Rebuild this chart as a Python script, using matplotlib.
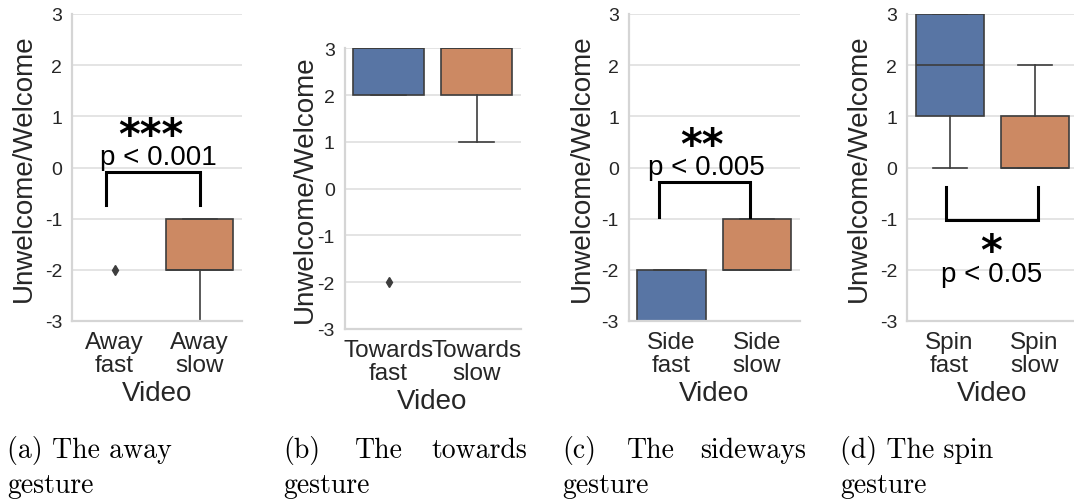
import matplotlib.pyplot as plt

plt.rcParams['font.family'] = ['Liberation Sans', 'DejaVu Sans']
plt.rcParams['axes.unicode_minus'] = False

# box statistics (one entry per video)
away_names = ["Away\nfast", "Away\nslow"]
away_q1 = [-3, -2]
away_med = [-3, -2]
away_q3 = [-3, -1]
away_lo = [-3, -3]
away_hi = [-3, -1]
away_fliers = [[-2], []]

towards_names = ["Towards\nfast", "Towards\nslow"]
towards_q1 = [2, 2]
towards_med = [3, 3]
towards_q3 = [3, 3]
towards_lo = [2, 1]
towards_hi = [3, 3]
towards_fliers = [[-2], []]

side_names = ["Side\nfast", "Side\nslow"]
side_q1 = [-3, -2]
side_med = [-3, -2]
side_q3 = [-2, -1]
side_lo = [-3, -2]
side_hi = [-2, -1]
side_fliers = [[], []]

spin_names = ["Spin\nfast", "Spin\nslow"]
spin_q1 = [1, 0]
spin_med = [2, 0]
spin_q3 = [3, 1]
spin_lo = [0, 0]
spin_hi = [3, 2]
spin_fliers = [[], []]

yticks = [-3, -2, -1, 0, 1, 2, 3]
captions = ["(a) The away", "(b) The towards", "(c) The sideways", "(d) The spin"]

box_colors = ["#5875a4", "#cc8963"]
edge = "#3d3d3d"
W, H = 1074, 502

fig = plt.figure(figsize=(W / 100, H / 100), dpi=100)


def panel(px, names, q1, med, q3, lo, hi, fliers, ylabelpad):
    left, top, width, bottom = px
    ax = fig.add_axes([left / W, 1 - bottom / H, width / W, (bottom - top) / H])
    stats = []
    for i in range(len(names)):
        stats.append(dict(q1=q1[i], med=med[i], q3=q3[i], whislo=lo[i],
                          whishi=hi[i], fliers=fliers[i]))
    bp = ax.bxp(stats, positions=range(len(names)), widths=0.8, patch_artist=True,
                boxprops=dict(edgecolor=edge, linewidth=1.2),
                medianprops=dict(color=edge, linewidth=1.2),
                whiskerprops=dict(color=edge, linewidth=1.2),
                capprops=dict(color=edge, linewidth=1.2),
                capwidths=0.4,
                flierprops=dict(marker='d', markerfacecolor=edge, markeredgecolor=edge,
                                markersize=5))
    for patch, c in zip(bp['boxes'], box_colors):
        patch.set_facecolor(c)
    ax.set_xlim(-0.5, len(names) - 0.5)
    ax.set_ylim(-3, 3)
    ax.set_yticks(yticks)
    ax.set_yticklabels([str(t) for t in yticks], fontsize=14, color='#262626')
    ax.set_xticks(range(len(names)))
    ax.set_xticklabels(names, fontsize=17.5, color='#262626', linespacing=1.05)
    ax.tick_params(length=0, pad=7)
    ax.yaxis.grid(True, color='#dddddd', linewidth=1.1)
    ax.set_axisbelow(True)
    for s in ['top', 'right']:
        ax.spines[s].set_visible(False)
    for s in ['left', 'bottom']:
        ax.spines[s].set_color('#d5d5d5')
        ax.spines[s].set_linewidth(1.6)
        ax.spines[s].set_zorder(3)
    ax.set_xlabel("Video", fontsize=20, color='#262626', labelpad=3)
    ax.set_ylabel("Unwelcome/Welcome", fontsize=20, color='#262626', labelpad=ylabelpad)
    return ax


def bracket(ax, x0, x1, y_bar, y_leg):
    ax.plot([x0, x0, x1, x1], [y_leg, y_bar, y_bar, y_leg], color='black', lw=2.2,
            solid_joinstyle='miter', clip_on=False)


def stars(ax, x, y, s):
    ax.text(x, y, s, ha='center', va='baseline', fontsize=30, fontweight='bold',
            family='DejaVu Sans', color='black')


def ptext(ax, x, y, s):
    ax.text(x, y, s, ha='center', va='baseline', fontsize=20, color='black')


ax_a = panel((72, 15, 170, 322), away_names, away_q1, away_med, away_q3, away_lo,
             away_hi, away_fliers, 6)
bracket(ax_a, -0.1, 1.0, -0.08, -0.74)
stars(ax_a, 0.43, 0.39, "***")
ptext(ax_a, 0.52, 0.07, "p < 0.001")

ax_b = panel((344.5, 49.3, 176, 330), towards_names, towards_q1, towards_med,
             towards_q3, towards_lo, towards_hi, towards_fliers, 0)

ax_c = panel((628.7, 15, 171, 322), side_names, side_q1, side_med, side_q3, side_lo,
             side_hi, side_fliers, 5)
bracket(ax_c, -0.145, 0.92, -0.28, -0.96)
stars(ax_c, 0.36, 0.19, "**")
ptext(ax_c, 0.41, -0.125, "p < 0.005")

ax_d = panel((907, 15, 170, 322), spin_names, spin_q1, spin_med, spin_q3, spin_lo,
             spin_hi, spin_fliers, 6)
bracket(ax_d, -0.045, 1.04, -1.02, -0.38)
stars(ax_d, 0.49, -1.88, "*")
ptext(ax_d, 0.5, -2.21, "p < 0.05")

# sub-figure captions (LaTeX-like serif, justified in b and c)
cap_kw = dict(fontsize=20, family='cmr10', color='black', va='baseline')
y1 = 1 - 458 / H
y2 = 1 - 493 / H
fig.text(7 / W, y1, captions[0], **cap_kw)
fig.text(7 / W, y2, "gesture", **cap_kw)
w_b = captions[1].split(" ")
fig.text(283 / W, y1, w_b[0], **cap_kw)
fig.text(355 / W, y1, w_b[1], **cap_kw)
fig.text(527 / W, y1, w_b[2], ha='right', **cap_kw)
fig.text(283 / W, y2, "gesture", **cap_kw)
w_c = captions[2].split(" ")
fig.text(562 / W, y1, w_c[0], **cap_kw)
fig.text(627 / W, y1, w_c[1], **cap_kw)
fig.text(806 / W, y1, w_c[2], ha='right', **cap_kw)
fig.text(562 / W, y2, "gesture", **cap_kw)
fig.text(840 / W, y1, captions[3], **cap_kw)
fig.text(840 / W, y2, "gesture", **cap_kw)

fig.savefig("out.png", dpi=100)
